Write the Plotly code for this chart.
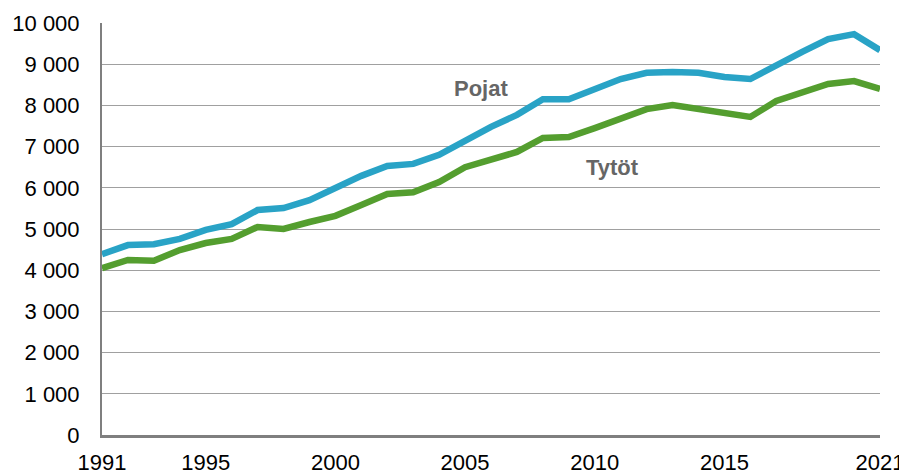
import plotly.graph_objects as go

years = list(range(1991, 2022))

pojat = [4390, 4610, 4630, 4760, 4980, 5120, 5460, 5510, 5700, 6000,
         6290, 6530, 6580, 6800, 7160, 7480, 7770, 8150, 8150, 8380,
         8640, 8790, 8810, 8790, 8690, 8640, 8980, 9300, 9610, 9730, 9340]

tytot = [4050, 4250, 4230, 4490, 4660, 4760, 5050, 5000, 5170, 5320,
         5580, 5850, 5890, 6140, 6500, 6670, 6870, 7210, 7230, 7450,
         7690, 7910, 8010, 7910, 7790, 7720, 8110, 8300, 8520, 8590, 8400]

x_ticks = [1991, 1995, 2000, 2005, 2010, 2015, 2021]

blue = "#29A3C6"
green = "#549E2F"

fig = go.Figure()
fig.add_trace(go.Scatter(x=years, y=pojat, mode="lines", name="Pojat",
                         line=dict(color=blue, width=6.5)))
fig.add_trace(go.Scatter(x=years, y=tytot, mode="lines", name="Tytöt",
                         line=dict(color=green, width=6.5)))

# series labels sit on the chart instead of a legend
fig.add_annotation(x=2005.6, y=8420, text="<b>Pojat</b>", showarrow=False,
                   font=dict(size=22, color="#666666"))
fig.add_annotation(x=2010.7, y=6500, text="<b>Tytöt</b>", showarrow=False,
                   font=dict(size=22, color="#666666"))

fig.update_xaxes(
    range=[1991, 2021], tickvals=x_ticks, showgrid=False,
    showline=True, linecolor="#7f7f7f", linewidth=3,
    ticks="outside", ticklen=6, tickcolor="rgba(0,0,0,0)",
    tickfont=dict(size=22, color="black"), zeroline=False,
    automargin=False,
)
fig.update_yaxes(
    range=[0, 10000], dtick=1000, tickformat=",",
    showgrid=True, gridcolor="#a0a0a0", gridwidth=1,
    showline=True, linecolor="#7f7f7f", linewidth=2,
    ticks="outside", ticklen=16, tickcolor="rgba(0,0,0,0)",
    tickfont=dict(size=22, color="black"), zeroline=False,
    automargin=False,
)
# page body adds an 8px offset, so the figure is 8px smaller than the window
fig.update_layout(
    width=899, height=464,
    template="simple_white",
    separators=", ",
    showlegend=False,
    font=dict(family="Liberation Sans, Arial"),
    plot_bgcolor="white", paper_bgcolor="white",
    margin=dict(l=94, r=27, t=15, b=37),
)

fig.write_html("out.html")
